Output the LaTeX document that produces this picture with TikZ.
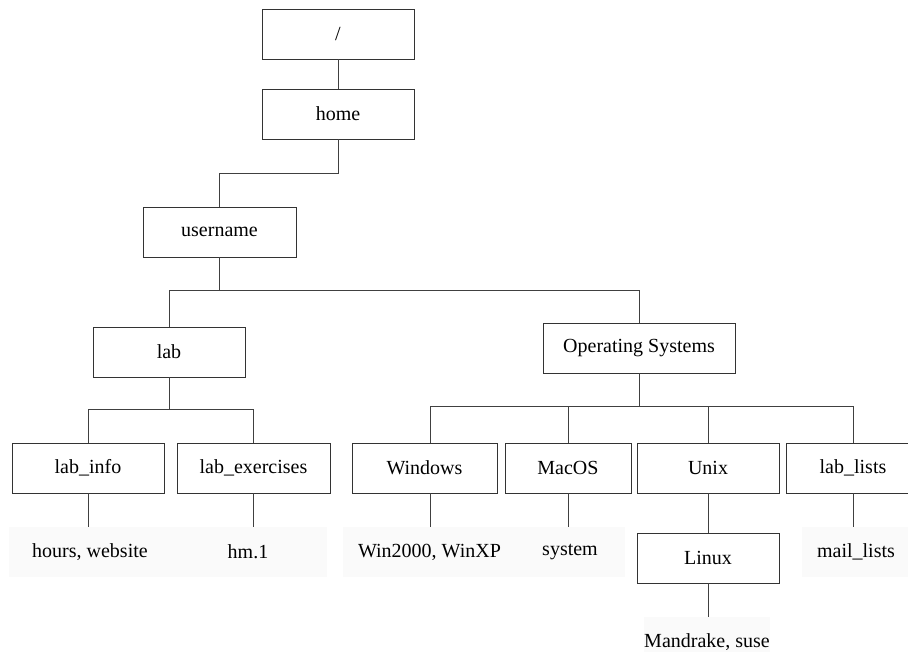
\documentclass[tikz,border=0pt]{standalone}
\usepackage{fontspec}
\setmainfont{Liberation Serif}
\usetikzlibrary{positioning}

\begin{document}
\begin{tikzpicture}[x=1pt, y=-1pt,
  dir/.style={rectangle, draw=black!80, line width=0.8pt, fill=white,
              font=\fontsize{20}{24}\selectfont, minimum height=50pt,
              inner sep=0pt},
  leaf/.style={rectangle, fill=black!2, font=\fontsize{20}{24}\selectfont,
               minimum height=50pt, inner sep=0pt},
  link/.style={draw=black!75, line width=0.9pt}
]
\useasboundingbox (0,0) rectangle (908,651);

% directory boxes
\node[dir, minimum width=152pt] (root)  at (338,34)    {/};
\node[dir, minimum width=152pt] (home)  at (338,114)   {home};
\node[dir, minimum width=153pt] (user)  at (219.5,232) {username};
\node[dir, minimum width=152pt] (lab)   at (169,352)   {lab};
\node[dir, minimum width=192pt] (os)    at (639,348)   {Operating Systems};
\node[dir, minimum width=152pt] (info)  at (88,468)    {lab\_info};
\node[dir, minimum width=153pt] (exer)  at (253.5,468) {lab\_exercises};
\node[dir, minimum width=145pt] (win)   at (424.5,468) {Windows};
\node[dir, minimum width=126pt] (mac)   at (568,468)   {MacOS};
\node[dir, minimum width=142pt] (unix)  at (708,468)   {Unix};
\node[dir, minimum width=134pt] (lists) at (853,468)   {lab\_lists};
\node[dir, minimum width=142pt] (linux) at (708,558)   {Linux};

% contents
\node[leaf, minimum width=162pt] (hours)  at (90,552)    {hours, website};
\node[leaf, minimum width=158pt] (hm)     at (248,552)   {hm.1};
\node[leaf, minimum width=173pt] (wincon) at (429.5,552) {Win2000, WinXP};
\node[leaf, minimum width=109pt] (sys)    at (570,552)   {system};
\node[leaf, minimum width=110pt] (mand)   at (707,642)   {Mandrake, suse};
\node[leaf, minimum width=108pt] (mail)   at (856,552)   {mail\_lists};

\draw[link] (root) -- (home);
\draw[link] (home.south) -- ++(0,34) -| (user.north);
\draw[link] (user.south) -- ++(0,33) coordinate (ubus);
\draw[link] (lab.north) |- (ubus) -| (os.north);
\draw[link] (lab.south) -- ++(0,32) coordinate (lbus);
\draw[link] (info.north) |- (lbus) -| (exer.north);
\draw[link] (os.south) -- ++(0,33) coordinate (obus);
\draw[link] ([xshift=6pt]win.north) |- (obus) -| (lists.north);
\draw[link] (mac.north) -- (mac.north |- obus);
\draw[link] (unix.north) -- (unix.north |- obus);
\draw[link] (unix) -- (linux);
\draw[link] (info.south) -- (info.south |- hours.north);
\draw[link] (exer.south) -- (exer.south |- hm.north);
\draw[link] ([xshift=6pt]win.south) -- ([xshift=6pt]win.south |- wincon.north);
\draw[link] (mac.south) -- (mac.south |- sys.north);
\draw[link] (linux.south) -- (linux.south |- mand.north);
\draw[link] (lists.south) -- (lists.south |- mail.north);
\end{tikzpicture}
\end{document}
